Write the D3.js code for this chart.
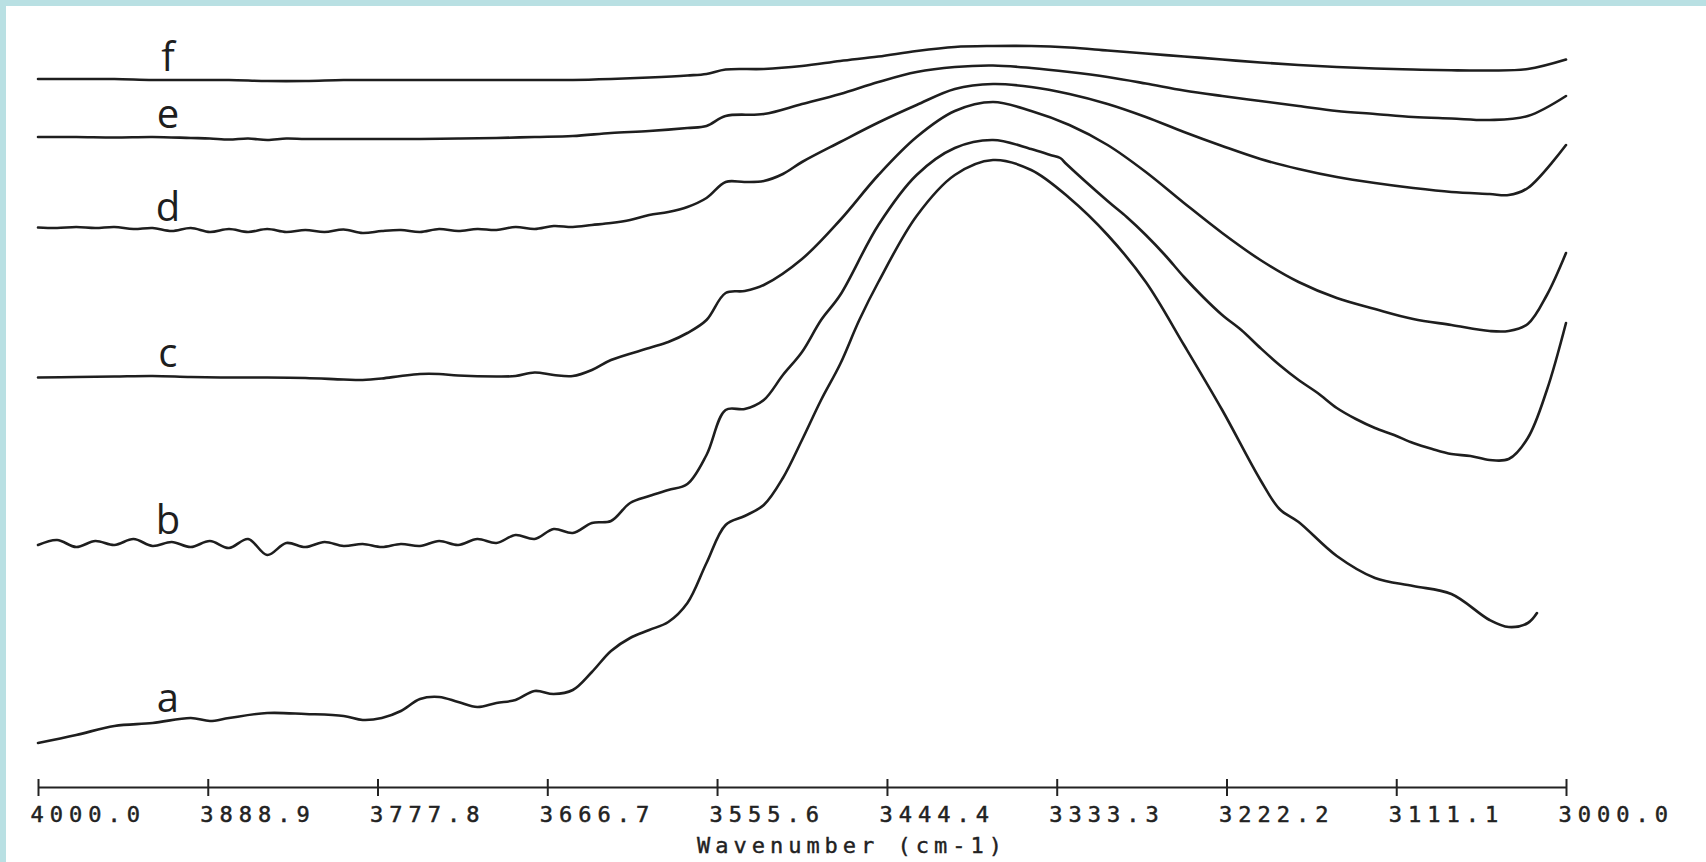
<!DOCTYPE html>
<html>
<head>
<meta charset="utf-8">
<script src="https://cdn.jsdelivr.net/npm/d3@7"></script>
<style>
  html, body { margin: 0; padding: 0; background: #b9e0e3; }
  svg { display: block; }
</style>
</head>
<body>
<svg id="chart" width="1706" height="862"></svg>
<script>
// x tick labels (wavenumber, cm-1)
const tickLabels = ['4000.0', '3888.9', '3777.8', '3666.7', '3555.6',
  '3444.4', '3333.3', '3222.2', '3111.1', '3000.0'];

const seriesNames = ['a', 'b', 'c', 'd', 'e', 'f'];

// [wavenumber, absorbance (arbitrary units, offset)]
const seriesA = [
  [4000, 57], [3975, 65], [3950, 74], [3925, 77], [3900, 82], [3887.5, 79],
  [3875, 82], [3850, 87], [3825, 86], [3800, 84], [3787.5, 80], [3775, 82],
  [3762.5, 89], [3750, 101], [3737.5, 103], [3725, 98], [3712.5, 93],
  [3700, 97], [3687.5, 100], [3675, 109], [3662.5, 106], [3650, 110],
  [3637.5, 128], [3625, 149], [3612.5, 162], [3600, 170], [3587.5, 178],
  [3575, 197], [3562.5, 237], [3550, 275], [3537.5, 284], [3525, 295],
  [3512.5, 322], [3500, 360], [3487.5, 400], [3475, 436], [3462.5, 480],
  [3450, 518], [3425, 584], [3400, 625], [3375, 640], [3350, 630],
  [3325, 602], [3300, 565], [3275, 518], [3250, 455], [3225, 390],
  [3200, 320], [3187.5, 291], [3175, 278], [3150, 244], [3125, 222],
  [3100, 214], [3075, 206], [3050, 180], [3037.5, 173], [3025, 177],
  [3019, 187]
];

const seriesB = [
  [4000, 255], [3987.5, 260], [3975, 253], [3962.5, 259], [3950, 255],
  [3937.5, 261], [3925, 254], [3912.5, 258], [3900, 253], [3887.5, 259],
  [3875, 252], [3862.5, 261], [3850, 245], [3837.5, 257], [3825, 253],
  [3812.5, 258], [3800, 254], [3787.5, 256], [3775, 253], [3762.5, 256],
  [3750, 254], [3737.5, 259], [3725, 255], [3712.5, 261], [3700, 257],
  [3687.5, 265], [3675, 261], [3662.5, 271], [3650, 267], [3637.5, 277],
  [3625, 279], [3612.5, 297], [3600, 304], [3587.5, 310], [3575, 316],
  [3562.5, 345], [3550, 390], [3537.5, 391], [3525, 400], [3512.5, 425],
  [3500, 448], [3487.5, 480], [3475, 505], [3450, 575], [3425, 625],
  [3400, 652], [3375, 660], [3350, 651], [3337.5, 645], [3331, 642],
  [3327, 636], [3300, 599], [3287.5, 583], [3275, 565], [3262.5, 545],
  [3250, 523], [3237.5, 503], [3225, 485], [3212.5, 470], [3200, 452],
  [3187.5, 435], [3175, 420], [3162.5, 407], [3150, 392], [3137.5, 381],
  [3125, 372], [3112.5, 365], [3100, 357], [3087.5, 351], [3075, 346],
  [3062.5, 344], [3050, 340], [3037.5, 341], [3025, 362], [3012.5, 410],
  [3000, 477]
];

const seriesC = [
  [4000, 422.5], [3975, 423], [3950, 423.5], [3925, 424], [3900, 423],
  [3875, 422.5], [3850, 422.5], [3825, 422], [3800, 420.5], [3787.5, 420],
  [3775, 421.5], [3762.5, 424], [3750, 426], [3737.5, 426], [3725, 424.5],
  [3700, 423.5], [3687.5, 424], [3675, 427.5], [3662.5, 425], [3650, 424],
  [3637.5, 430], [3625, 440], [3600, 452], [3587.5, 458], [3575, 467],
  [3562.5, 480], [3550, 507], [3537.5, 509], [3525, 515], [3500, 541],
  [3475, 580], [3450, 625], [3425, 663], [3400, 689], [3375, 698],
  [3350, 689], [3325, 675], [3300, 655], [3275, 628], [3250, 597],
  [3225, 567], [3200, 540], [3175, 518], [3150, 502], [3125, 491],
  [3100, 481], [3075, 475], [3050, 469], [3037.5, 469], [3025, 476],
  [3012.5, 505], [3000, 547]
];

const seriesD = [
  [4000, 572.5], [3987.5, 572], [3975, 573], [3962.5, 572], [3950, 573],
  [3937.5, 571], [3925, 572], [3912.5, 569], [3900, 572], [3887.5, 568],
  [3875, 571], [3862.5, 568], [3850, 571], [3837.5, 568], [3825, 570],
  [3812.5, 568], [3800, 570.5], [3787.5, 567], [3775, 569], [3762.5, 570],
  [3750, 568], [3737.5, 571], [3725, 569], [3712.5, 571], [3700, 570],
  [3687.5, 573], [3675, 571], [3662.5, 574], [3650, 573], [3637.5, 575],
  [3625, 577], [3612.5, 580], [3600, 585], [3587.5, 588], [3575, 593],
  [3562.5, 602], [3550, 618], [3537.5, 618], [3525, 619], [3512.5, 626],
  [3500, 638], [3475, 658], [3450, 677.5], [3425, 695], [3400, 711],
  [3375, 716], [3350, 713], [3325, 706], [3300, 696], [3275, 683],
  [3250, 668], [3225, 654], [3200, 641], [3175, 631], [3150, 623],
  [3125, 617], [3100, 612], [3075, 608], [3050, 606], [3037.5, 605],
  [3025, 612], [3000, 655]
];

const seriesE = [
  [4000, 663], [3975, 663], [3950, 662.5], [3925, 663], [3900, 662],
  [3887.5, 661.5], [3875, 660.5], [3862.5, 661.5], [3850, 660],
  [3837.5, 661.5], [3825, 661], [3800, 661], [3775, 661], [3750, 661],
  [3725, 661.5], [3700, 662], [3675, 663], [3650, 664], [3625, 667],
  [3600, 669], [3575, 672], [3562.5, 674], [3550, 684], [3525, 686],
  [3500, 696], [3475, 706], [3450, 718], [3425, 728], [3400, 733],
  [3375, 734.5], [3350, 732], [3325, 728], [3300, 723], [3275, 716.5],
  [3250, 709.5], [3225, 704], [3200, 699], [3175, 694], [3150, 689],
  [3125, 686], [3100, 683], [3075, 681.5], [3050, 680], [3025, 684],
  [3000, 704]
];

const seriesF = [
  [4000, 721], [3975, 721], [3950, 721], [3925, 720], [3900, 720],
  [3875, 720], [3850, 719], [3825, 719], [3800, 720], [3775, 720],
  [3750, 720], [3725, 720], [3700, 720], [3675, 720], [3650, 720],
  [3625, 721], [3600, 722.5], [3575, 724.5], [3562.5, 726], [3550, 730.5],
  [3525, 731], [3500, 734], [3475, 739], [3450, 743.5], [3425, 749],
  [3400, 753], [3375, 754], [3350, 754], [3325, 752.5], [3300, 749.5],
  [3275, 746.5], [3250, 743.5], [3225, 740.5], [3200, 737.5], [3175, 735],
  [3150, 733], [3125, 731.5], [3100, 730.5], [3075, 729.7], [3050, 729.5],
  [3025, 731], [3000, 740.5]
];

const allSeries = [seriesA, seriesB, seriesC, seriesD, seriesE, seriesF];
const labelWavenumber = 3915;

const width = 1706;
const height = 862;
const axisY = 787;

const svg = d3.select('#chart');

// paper area (scan border left/top stays cyan)
svg.append('rect')
  .attr('x', 6)
  .attr('y', 6)
  .attr('width', width - 6)
  .attr('height', height - 6)
  .attr('fill', '#ffffff');

const x = d3.scaleLinear().domain([4000, 3000]).range([38, 1566]);
const y = d3.scaleLinear().domain([0, 800]).range([800, 0]);

const line = d3.line()
  .x((d) => x(d[0]))
  .y((d) => y(d[1]))
  .curve(d3.curveCatmullRom.alpha(0.5));

svg.append('g')
  .selectAll('path')
  .data(allSeries)
  .enter()
  .append('path')
  .attr('d', line)
  .attr('fill', 'none')
  .attr('stroke', '#1e1e1e')
  .attr('stroke-width', 2.6)
  .attr('stroke-linejoin', 'round')
  .attr('stroke-linecap', 'round');

// value of a series at a given wavenumber (linear between samples)
function valueAt(series, wn) {
  for (let i = 0; i < series.length - 1; i++) {
    const [w0, v0] = series[i];
    const [w1, v1] = series[i + 1];
    if (wn <= w0 && wn >= w1) {
      return v0 + (v1 - v0) * (w0 - wn) / (w0 - w1);
    }
  }
  return series[0][1];
}

svg.append('g')
  .selectAll('text')
  .data(allSeries)
  .enter()
  .append('text')
  .attr('x', x(labelWavenumber))
  .attr('y', (d) => y(valueAt(d, labelWavenumber)) - 9)
  .attr('text-anchor', 'middle')
  .style('font-family', '"Open Sans", "Liberation Sans", sans-serif')
  .style('font-weight', 400)
  .style('font-size', '40px')
  .style('fill', '#1e1e1e')
  .text((d, i) => seriesNames[i]);

// axis
const axis = d3.axisBottom(x)
  .tickValues(tickLabels.map(Number))
  .tickFormat((d, i) => tickLabels[i])
  .tickSize(9)
  .tickSizeOuter(0);

const gAxis = svg.append('g')
  .attr('transform', `translate(0,${axisY})`)
  .call(axis);

gAxis.select('.domain')
  .attr('stroke', '#222')
  .attr('stroke-width', 2);

gAxis.selectAll('.tick line')
  .attr('y1', -8)
  .attr('y2', 9)
  .attr('stroke', '#222')
  .attr('stroke-width', 2);

gAxis.selectAll('.tick text')
  .attr('text-anchor', 'start')
  .attr('x', -8)
  .attr('y', 35)
  .attr('dy', null)
  .attr('fill', '#222')
  .attr('stroke', '#222')
  .attr('stroke-width', 0.5)
  .style('font-family', '"DejaVu Sans Mono", "Liberation Mono", monospace')
  .style('font-size', '22px')
  .style('letter-spacing', '6px');

svg.append('text')
  .attr('x', 852)
  .attr('y', 853)
  .attr('text-anchor', 'middle')
  .attr('fill', '#222')
  .attr('stroke', '#222')
  .attr('stroke-width', 0.4)
  .style('font-family', '"DejaVu Sans Mono", "Liberation Mono", monospace')
  .style('font-size', '22px')
  .style('letter-spacing', '5px')
  .text('Wavenumber  (cm-1)');
</script>
</body>
</html>
